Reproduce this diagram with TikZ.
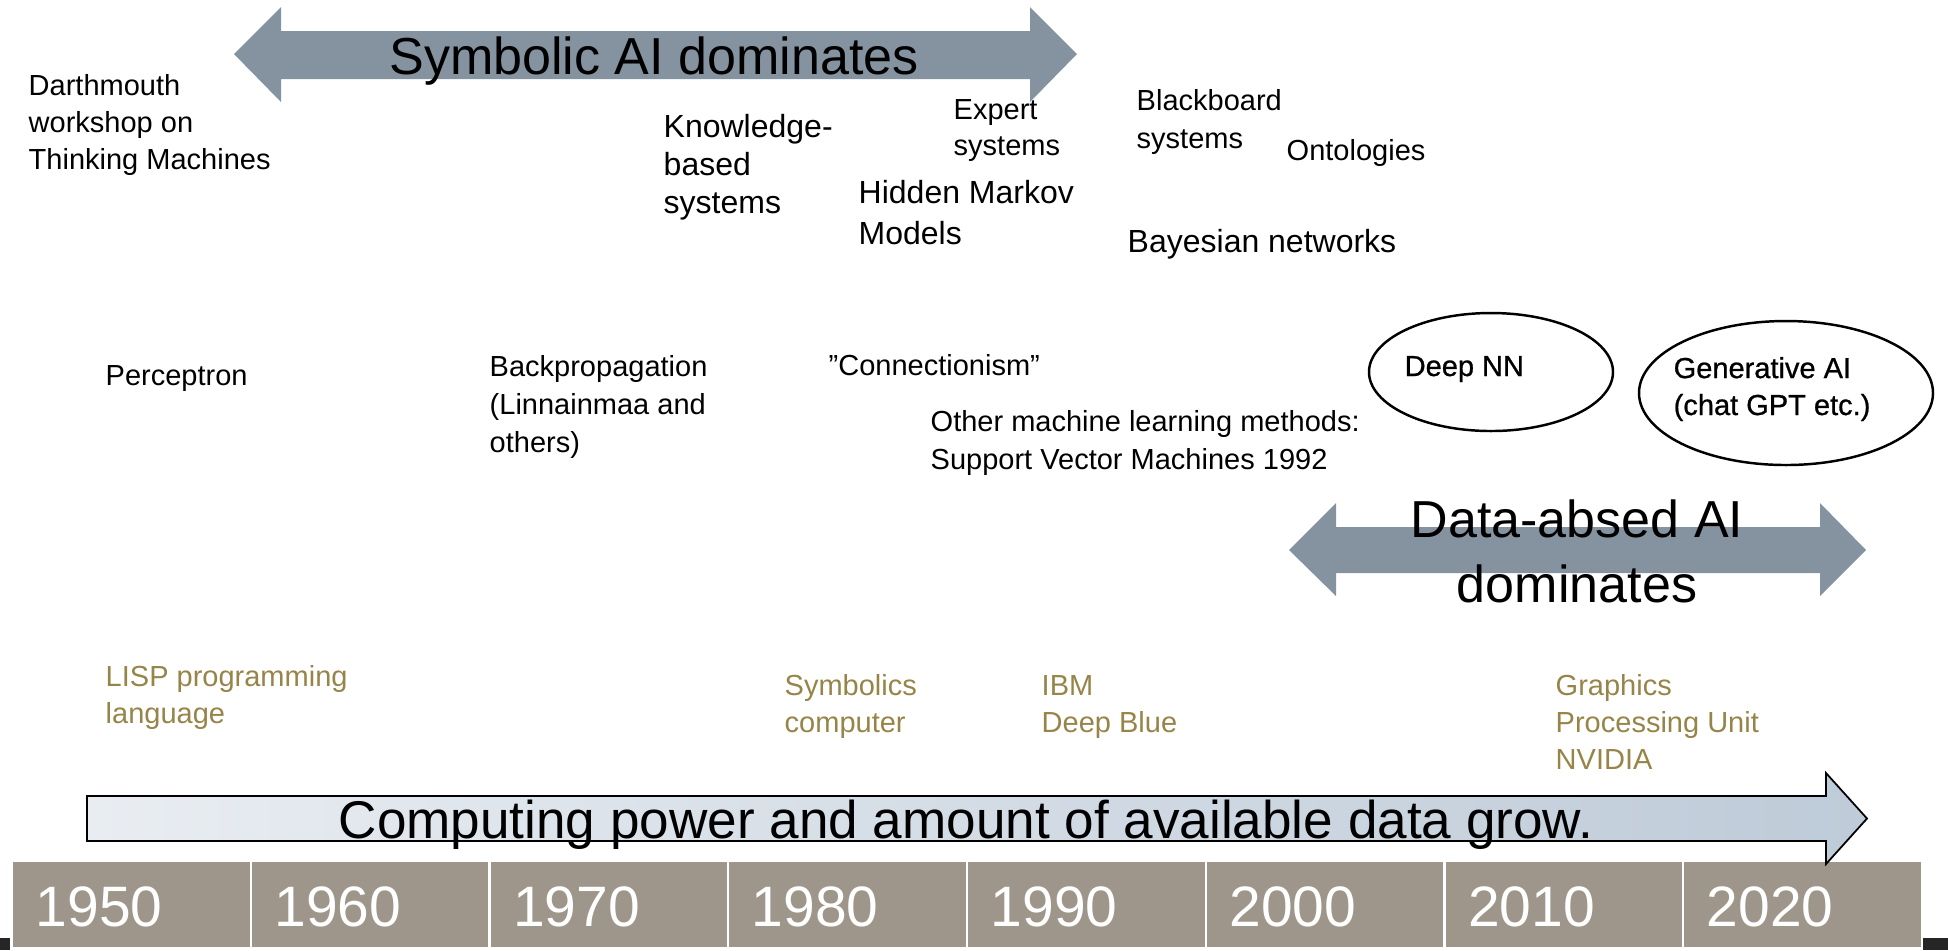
\documentclass[tikz,border=0pt]{standalone}
\usepackage{fontspec}
\setmainfont{Liberation Sans}
\newfontfamily\medfont[FakeBold=0.8]{Liberation Sans}

\definecolor{slate}{RGB}{132,147,159}
\definecolor{taupe}{RGB}{158,150,138}
\definecolor{hwolive}{RGB}{150,132,72}
\definecolor{growleft}{RGB}{233,237,242}
\definecolor{growright}{RGB}{190,203,216}

% multi-line notes sit on the baseline of their last line
\tikzset{
    note/.style={anchor=base west, inner sep=0pt, align=left, font=\fontsize{8.25}{10.5}\selectfont},
    bignote/.style={note, font=\fontsize{9.1}{10.8}\selectfont},
    hwnote/.style={note, text=hwolive},
    ringnote/.style={note, font=\medfont\fontsize{8.25}{10.5}\selectfont},
    era/.style={anchor=base, inner sep=0pt, align=center, font=\fontsize{14.8}{18.4}\selectfont},
    year/.style={anchor=base west, inner sep=0pt, text=white, font=\fontsize{16.2}{18}\selectfont},
    ring/.style={draw, line width=0.7pt}
}

\begin{document}
\begin{tikzpicture}[x=0.01cm, y=-0.01cm]
    \useasboundingbox (0,0) rectangle (1948,950);

    % Era arrows
    \fill[slate] (234,54) -- (281,7) -- (281,31) -- (1030,31) -- (1030,7) -- (1077,54)
        -- (1030,102) -- (1030,79) -- (281,79) -- (281,102) -- cycle;
    \node[era] (symbolic) at (654,74) {Symbolic AI dominates};

    \fill[slate] (1289,550) -- (1336,503) -- (1336,527) -- (1820,527) -- (1820,503) -- (1866,550)
        -- (1820,596) -- (1820,573) -- (1336,573) -- (1336,596) -- cycle;
    \node[era] (databased) at (1577,602) {Data-absed AI\\dominates};

    % Symbolic methods
    \node[note] (darthmouth) at (28,169) {Darthmouth\\workshop on\\Thinking Machines};
    \node[bignote] (knowledge) at (663,213) {Knowledge-\\based\\systems};
    \node[note, font=\fontsize{8.25}{10.2}\selectfont] (expert) at (953,155) {Expert\\systems};
    \node[bignote, font=\fontsize{9.1}{11.4}\selectfont] (markov) at (858,244) {Hidden Markov\\Models};
    \node[note, font=\fontsize{8.25}{10.8}\selectfont] (blackboard) at (1136,148) {Blackboard\\systems};
    \node[note] (ontologies) at (1286,160) {Ontologies};
    \node[bignote] (bayes) at (1127,252) {Bayesian networks};

    % Learning methods
    \node[note] (perceptron) at (105,385) {Perceptron};
    \node[note, font=\fontsize{8.25}{10.8}\selectfont] (backprop) at (489,452) {Backpropagation\\(Linnainmaa and\\others)};
    \node[note] (connect) at (828,375) {”Connectionism”};
    \node[note, font=\fontsize{8.25}{10.8}\selectfont] (otherml) at (930,469) {Other machine learning methods:\\Support Vector Machines 1992};

    \draw[ring] (1491,372) ellipse [x radius=122, y radius=59];
    \node[ringnote] (deepnn) at (1404,376) {Deep NN};
    \draw[ring] (1786,393) ellipse [x radius=147, y radius=72];
    \node[ringnote] (genai) at (1673,415) {Generative AI\\(chat GPT etc.)};

    % Hardware
    \node[hwnote] (lisp) at (105,723) {LISP programming\\language};
    \node[hwnote] (symbolics) at (784,732) {Symbolics\\computer};
    \node[hwnote] (deepblue) at (1041,732) {IBM\\Deep Blue};
    \node[hwnote] (gpu) at (1555,769) {Graphics\\Processing Unit\\NVIDIA};

    % Year bar
    \foreach \yr [count=\i from 0] in {1950,1960,...,2020} {
        \fill[taupe, draw=white, line width=0.6pt] ({12+238.75*\i},861) rectangle ++(238.75,87);
        \node[year] (y\yr) at ({35+238.75*\i},926) {\yr};
    }
    \fill[black!85] (0,938) rectangle (10,950);
    \fill[black!85] (1923,938) rectangle (1948,950);

    % Growth arrow
    \draw[line width=0.5pt, left color=growleft, right color=growright]
        (87,796) -- (1826,796) -- (1826,773) -- (1867,818.5) -- (1826,864) -- (1826,841) -- (87,841) -- cycle;
    \node[anchor=base, inner sep=0pt, font=\fontsize{15.1}{17}\selectfont] (growth) at (966,838)
        {Computing power and amount of available data grow.};
\end{tikzpicture}
\end{document}
